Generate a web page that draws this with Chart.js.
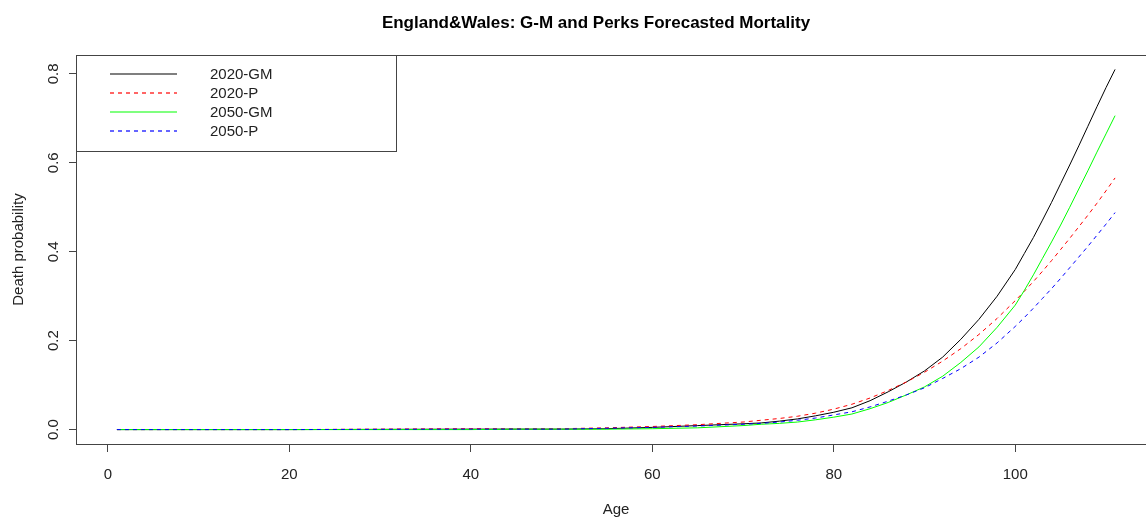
<!DOCTYPE html>
<html lang="en">
<head>
  <meta charset="UTF-8">
  <title>England&amp;Wales: G-M and Perks Forecasted Mortality</title>
  <script src="https://cdn.jsdelivr.net/npm/chart.js"></script>
  <style>
    body {
      margin: 0;
      background-color: #fff;
      overflow: hidden;
    }

    .chart-container {
      width: 1192px;
      height: 517px;
    }
  </style>
</head>
<body>
  <div class="chart-container">
    <canvas id="mortalityChart" width="1192" height="517"></canvas>
  </div>

  <script>
    // Forecast death probabilities by age
    const ages = [1, 20, 40, 45, 50, 55, 60, 65, 70, 72, 74, 76, 78, 80, 82, 84, 86, 88, 90, 92, 94, 96, 98,
      100, 101, 102, 103, 104, 105, 106, 107, 108, 109, 110, 111];
    const gm2020 = [0, 0, 0.001, 0.001, 0.001, 0.002, 0.005, 0.009, 0.013, 0.015, 0.019, 0.024, 0.031, 0.039, 0.049,
      0.065, 0.085, 0.107, 0.132, 0.163, 0.203, 0.248, 0.300,
      0.360, 0.396, 0.432, 0.471, 0.511, 0.553, 0.595, 0.638, 0.682, 0.726, 0.769, 0.810];
    const perks2020 = [0, 0, 0.002, 0.002, 0.002, 0.004, 0.007, 0.011, 0.017, 0.021, 0.025, 0.030, 0.037, 0.046, 0.057,
      0.071, 0.088, 0.107, 0.129, 0.154, 0.182, 0.214, 0.250,
      0.290, 0.311, 0.333, 0.356, 0.380, 0.405, 0.430, 0.456, 0.482, 0.509, 0.537, 0.566];
    const gm2050 = [0, 0, 0, 0.001, 0.001, 0.001, 0.002, 0.004, 0.009, 0.012, 0.014, 0.017, 0.022, 0.028, 0.035,
      0.047, 0.061, 0.078, 0.096, 0.120, 0.151, 0.186, 0.230,
      0.280, 0.313, 0.348, 0.385, 0.422, 0.460, 0.500, 0.541, 0.582, 0.624, 0.665, 0.706];
    const perks2050 = [0, 0, 0.001, 0.001, 0.001, 0.003, 0.005, 0.008, 0.012, 0.014, 0.017, 0.021, 0.026, 0.033, 0.040,
      0.051, 0.064, 0.078, 0.094, 0.115, 0.137, 0.163, 0.195,
      0.232, 0.252, 0.273, 0.295, 0.317, 0.340, 0.364, 0.388, 0.412, 0.437, 0.462, 0.488];

    const seriesLabels = ["2020-GM", "2020-P", "2050-GM", "2050-P"];
    const seriesColors = ["#000000", "#ff0000", "#00ff00", "#0000ff"];
    const seriesDashes = [[], [4, 4], [], [4, 4]];

    const xTicks = [0, 20, 40, 60, 80, 100];
    const yTicks = [0, 0.2, 0.4, 0.6, 0.8];

    Chart.defaults.font.family = "'Liberation Sans', Arial, sans-serif";
    Chart.defaults.color = "#000";

    const toPoints = (values) => values.map((v, i) => ({ x: ages[i], y: v }));

    // Frame round the plotting region
    const plotBox = {
      id: "plotBox",
      afterDatasetsDraw(chart) {
        const { ctx, chartArea } = chart;
        ctx.save();
        ctx.strokeStyle = "#444";
        ctx.lineWidth = 1;
        ctx.strokeRect(Math.round(chartArea.left) - 0.5, Math.round(chartArea.top) + 0.5,
          Math.round(chartArea.width), Math.round(chartArea.height));
        ctx.restore();
      },
    };

    // Boxed legend in the top-left corner of the plot
    const cornerLegend = {
      id: "cornerLegend",
      afterDraw(chart) {
        const { ctx, chartArea } = chart;
        const left = Math.round(chartArea.left);
        const top = Math.round(chartArea.top);
        ctx.save();
        ctx.fillStyle = "#fff";
        ctx.fillRect(left, top + 1, 319, 95);
        ctx.lineWidth = 1;
        ctx.strokeStyle = "#444";
        ctx.setLineDash([]);
        ctx.strokeRect(left - 0.5, top + 0.5, 320, 96);
        ctx.font = "15px 'Liberation Sans', Arial, sans-serif";
        ctx.textBaseline = "middle";
        ctx.textAlign = "left";
        seriesLabels.forEach((label, i) => {
          const y = Math.round(top + 19 + i * 19.1);
          ctx.beginPath();
          ctx.lineWidth = 1.2;
          ctx.strokeStyle = seriesColors[i];
          ctx.setLineDash(seriesDashes[i]);
          ctx.moveTo(left + 33, y);
          ctx.lineTo(left + 100, y);
          ctx.stroke();
          ctx.setLineDash([]);
          ctx.fillStyle = "#222";
          ctx.fillText(label, left + 133, y + 1);
        });
        ctx.restore();
      },
    };

    const series = [gm2020, perks2020, gm2050, perks2050];

    const ctx = document.getElementById("mortalityChart").getContext("2d");
    const chart = new Chart(ctx, {
      type: "line",
      data: {
        datasets: series.map((values, i) => ({
          label: seriesLabels[i],
          data: toPoints(values),
          borderColor: seriesColors[i],
          borderDash: seriesDashes[i],
          order: series.length - 1 - i,
        })),
      },
      options: {
        responsive: false,
        animation: false,
        devicePixelRatio: 1,
        layout: { padding: 0 },
        elements: {
          line: { borderWidth: 1, tension: 0, fill: false },
          point: { radius: 0 },
        },
        plugins: {
          legend: { display: false },
          tooltip: { enabled: false },
          title: {
            display: true,
            text: "England&Wales: G-M and Perks Forecasted Mortality",
            font: { size: 17, weight: "bold" },
            color: "#000",
            padding: { top: 13, bottom: 21.6 },
          },
        },
        scales: {
          x: {
            type: "linear",
            min: -3.4,
            max: 115.4,
            afterBuildTicks: (scale) => {
              scale.ticks = xTicks.map((v) => ({ value: v }));
            },
            afterFit: (scale) => {
              scale.height = 73;
            },
            ticks: {
              font: { size: 15 },
              color: "#222",
              padding: 14,
              maxRotation: 0,
              autoSkip: false,
            },
            grid: {
              drawOnChartArea: false,
              drawTicks: true,
              tickLength: 8,
              color: "#444",
            },
            border: { display: false },
            title: {
              display: true,
              text: "Age",
              font: { size: 15 },
              color: "#222",
              padding: { top: 0, bottom: -2 },
            },
          },
          y: {
            type: "linear",
            min: -0.0324,
            max: 0.8424,
            afterBuildTicks: (scale) => {
              scale.ticks = yTicks.map((v) => ({ value: v }));
            },
            afterFit: (scale) => {
              scale.width = 77;
            },
            ticks: {
              font: { size: 15 },
              color: "#222",
              padding: 5,
              minRotation: 90,
              maxRotation: 90,
              crossAlign: "center",
              autoSkip: false,
              callback: (v) => v.toFixed(1),
            },
            grid: {
              drawOnChartArea: false,
              drawTicks: true,
              tickLength: 8,
              color: "#444",
            },
            border: { display: false },
            title: {
              display: true,
              text: "Death probability",
              font: { size: 15 },
              color: "#222",
              padding: { top: 10, bottom: 0 },
            },
          },
          // right-hand margin of the figure
          margin: {
            type: "linear",
            position: "right",
            display: true,
            afterFit: (scale) => {
              scale.width = 37;
            },
            ticks: { display: false },
            grid: { display: false },
            border: { display: false },
          },
        },
      },
      plugins: [plotBox, cornerLegend],
    });
  </script>
</body>
</html>
